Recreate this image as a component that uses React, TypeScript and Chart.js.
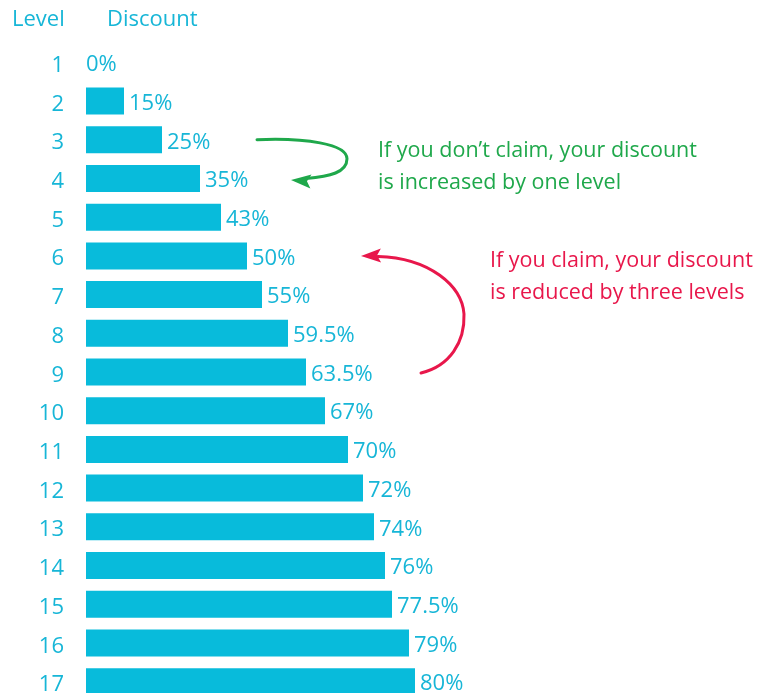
import React, { useEffect, useRef } from "react";
import { Chart, registerables } from "chart.js";

Chart.register(...registerables);

const levels = ["1", "2", "3", "4", "5", "6", "7", "8", "9", "10", "11", "12", "13", "14", "15", "16", "17"];
const discountLabels = ["0%", "15%", "25%", "35%", "43%", "50%", "55%", "59.5%", "63.5%", "67%", "70%", "72%", "74%", "76%", "77.5%", "79%", "80%"];
// bar lengths as drawn in the picture (arbitrary units)
const barLengths = [0, 38, 76, 114, 135, 161, 176, 202, 220, 239, 262, 277, 288, 299, 306, 323, 329];
const headers = ["Level", "Discount"];
const noClaimNote = ["If you don\u2019t claim, your discount", "is increased by one level"];
const claimNote = ["If you claim, your discount", "is reduced by three levels"];

const CYAN_BAR = "#08bbdb";
const CYAN_TEXT = "#17b6d7";
const GREEN = "#1fa84b";
const RED = "#e8174b";
const FONT = "'Open Sans', sans-serif";

function drawArrowHead(ctx: CanvasRenderingContext2D, tipX: number, tipY: number, angle: number, color: string) {
  const len = 20;
  const half = 7;
  ctx.save();
  ctx.translate(tipX, tipY);
  ctx.rotate(angle);
  ctx.beginPath();
  ctx.moveTo(0, 0);
  ctx.lineTo(len, -half);
  ctx.lineTo(len * 0.8, 0);
  ctx.lineTo(len, half);
  ctx.closePath();
  ctx.fillStyle = color;
  ctx.fill();
  ctx.restore();
}

const overlayPlugin = {
  id: "overlay",
  afterDatasetsDraw(chart: any) {
    const ctx: CanvasRenderingContext2D = chart.ctx;
    const meta = chart.getDatasetMeta(0);
    const yScale = chart.scales.y;
    ctx.save();
    // value labels
    ctx.font = `22px ${FONT}`;
    ctx.fillStyle = CYAN_TEXT;
    ctx.textBaseline = "middle";
    ctx.textAlign = "left";
    meta.data.forEach((bar: any, i: number) => {
      const off = barLengths[i] > 0 ? 5 : 0;
      ctx.fillText(discountLabels[i], bar.x + off, bar.y + 2.5);
    });
    // headers
    ctx.textBaseline = "alphabetic";
    ctx.fillText(headers[0], 12, 26);
    ctx.fillText(headers[1], 107, 26);

    // green note
    const y3 = yScale.getPixelForValue(2);
    const y4 = yScale.getPixelForValue(3);
    ctx.font = `21.5px ${FONT}`;
    ctx.fillStyle = GREEN;
    ctx.fillText(noClaimNote[0], 378, y3 + 17);
    ctx.fillText(noClaimNote[1], 378, y3 + 49);
    ctx.strokeStyle = GREEN;
    ctx.lineWidth = 3;
    ctx.lineCap = "round";
    ctx.beginPath();
    ctx.moveTo(257, y3);
    ctx.bezierCurveTo(305, y3 - 2, 347, y3 + 4, 347, y3 + 19);
    ctx.bezierCurveTo(347, y4 - 6, 330, y4 - 2, 306, y4 + 0);
    ctx.stroke();
    drawArrowHead(ctx, 291, y4 + 1.5, 0.08, GREEN);

    // red note
    const y6 = yScale.getPixelForValue(5);
    const y9 = yScale.getPixelForValue(8);
    ctx.fillStyle = RED;
    ctx.fillText(claimNote[0], 490, y6 + 11.5);
    ctx.fillText(claimNote[1], 490, y6 + 43.5);
    ctx.strokeStyle = RED;
    ctx.beginPath();
    ctx.moveTo(421, y9 + 1);
    ctx.bezierCurveTo(450, y9 - 6, 465, y9 - 30, 464, y9 - 58);
    ctx.bezierCurveTo(462, y6 + 30, 430, y6 + 2, 378, y6 + 0.5);
    ctx.stroke();
    drawArrowHead(ctx, 361, y6, -0.02, RED);
    ctx.restore();
  },
};

export default function App() {
  const ref = useRef<HTMLCanvasElement>(null);
  useEffect(() => {
    document.body.style.margin = "0";
    const chart = new Chart(ref.current as HTMLCanvasElement, {
      type: "bar",
      data: {
        labels: levels,
        datasets: [
          {
            data: barLengths,
            backgroundColor: CYAN_BAR,
            borderWidth: 0,
            barThickness: 27,
            inflateAmount: 0,
          },
        ],
      },
      options: {
        indexAxis: "y",
        animation: false,
        responsive: false,
        devicePixelRatio: 1,
        layout: { padding: { top: 43, bottom: 40, left: 0, right: 0 } },
        plugins: { legend: { display: false }, tooltip: { enabled: false }, title: { display: false } },
        scales: {
          x: { display: false, min: 0, max: 672 },
          y: {
            grid: { display: false, drawTicks: false },
            border: { display: false },
            ticks: {
              color: CYAN_TEXT,
              font: { family: "'Open Sans', sans-serif", size: 22, lineHeight: 0.3 },
              padding: 22,
              autoSkip: false,
              // empty first line nudges the level number slightly below the row centre
              callback: (_v: any, i: number) => ["", levels[i]],
            },
            afterFit: (scale: any) => {
              scale.width = 86;
            },
          },
        },
      },
      plugins: [overlayPlugin],
    });
    return () => chart.destroy();
  }, []);
  return (
    <div style={{ position: "fixed", left: 0, top: 0, width: 758, height: 693, overflow: "hidden", background: "#fff" }}>
      <canvas ref={ref} width={758} height={741} style={{ display: "block" }} />
    </div>
  );
}
